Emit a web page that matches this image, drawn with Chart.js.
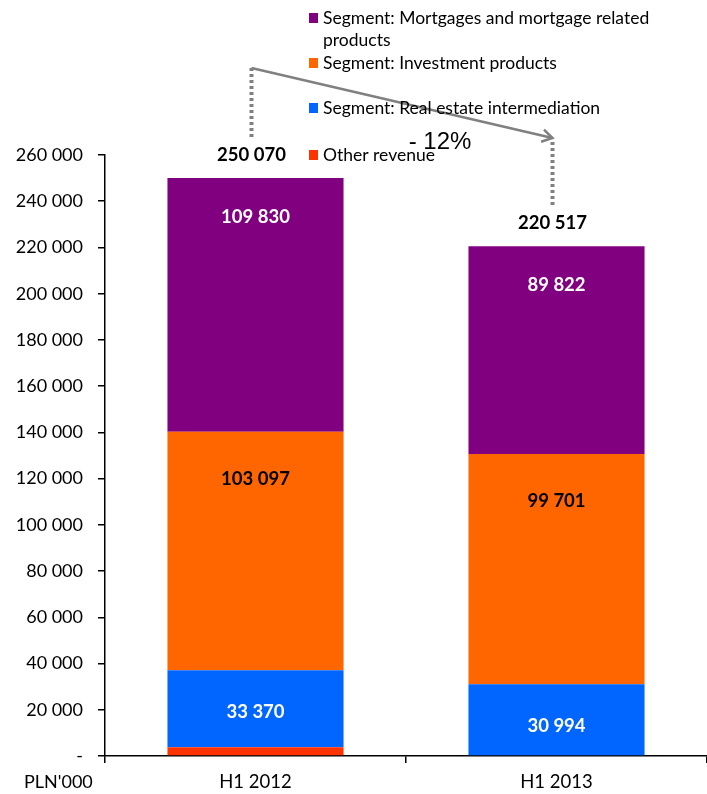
<!DOCTYPE html>
<html>
<head>
<meta charset="utf-8">
<script src="https://cdn.jsdelivr.net/npm/chart.js@4.4.0/dist/chart.umd.min.js"></script>
<style>
  html, body { margin: 0; padding: 0; background: #fff; }
  #wrap { position: relative; width: 707px; height: 794px; }
</style>
</head>
<body>
<div id="wrap"><canvas id="revChart" width="707" height="794"></canvas></div>
<script>
// Revenue by segment, PLN'000
const periods = ['H1 2012', 'H1 2013'];
const otherRevenue = [3773, 0];
const realEstate = [33370, 30994];
const investment = [103097, 99701];
const mortgages = [109830, 89822];
const changeLabel = '- 12%';
const unitLabel = "PLN'000";

const FONT = 'Lato, "Open Sans", sans-serif';

// thousands separated by a space, zero shown as a dash
const fmt = v => v === 0 ? '-' : String(Math.round(v)).replace(/\B(?=(\d{3})+(?!\d))/g, ' ');

const totals = periods.map((_, i) => otherRevenue[i] + realEstate[i] + investment[i] + mortgages[i]);

const datasets = [
  { label: 'Other revenue', data: otherRevenue, backgroundColor: '#ff3300', labelColor: null, labelDy: 0 },
  { label: 'Segment: Real estate intermediation', data: realEstate, backgroundColor: '#0066ff', labelColor: '#ffffff', labelDy: 42 },
  { label: 'Segment: Investment products', data: investment, backgroundColor: '#ff6600', labelColor: '#000000', labelDy: 47 },
  { label: 'Segment: Mortgages and mortgage related|products', data: mortgages, backgroundColor: '#800080', labelColor: '#ffffff', labelDy: 39 }
];

// legend, value labels, totals and the change arrow
const decorations = {
  id: 'decorations',
  afterDatasetsDraw(chart) {
    const ctx = chart.ctx;
    ctx.save();

    // segment values inside the bars
    chart.data.datasets.forEach((ds, di) => {
      if (!ds.labelColor) return;
      chart.getDatasetMeta(di).data.forEach((bar, i) => {
        ctx.font = 'bold 18.5px ' + FONT;
        ctx.fillStyle = ds.labelColor;
        ctx.textAlign = 'center';
        ctx.textBaseline = 'middle';
        ctx.fillText(fmt(ds.data[i]), bar.x, bar.y + ds.labelDy);
      });
    });

    // totals above the bars
    const top = chart.getDatasetMeta(chart.data.datasets.length - 1).data;
    const y = chart.scales.y;
    ctx.font = 'bold 18.5px ' + FONT;
    ctx.fillStyle = '#000';
    ctx.textAlign = 'center';
    const totalPos = [];
    top.forEach((bar, i) => {
      const ty = y.getPixelForValue(totals[i]);
      const tx = bar.x - 4;
      ctx.fillText(fmt(totals[i]), tx, ty - 23);
      totalPos.push({ x: tx, y: ty - 23 });
    });

    // dotted connectors and the arrow between totals
    const a = totalPos[0], b = totalPos[1];
    const arrowTop = 68, arrowEnd = 138;
    ctx.strokeStyle = '#808080';
    ctx.lineWidth = 4;
    ctx.setLineDash([3, 3]);
    ctx.beginPath();
    ctx.moveTo(a.x, arrowTop); ctx.lineTo(a.x, a.y - 16);
    ctx.moveTo(b.x, arrowEnd + 4); ctx.lineTo(b.x, b.y - 16);
    ctx.stroke();
    ctx.setLineDash([]);
    ctx.lineWidth = 2.5;
    ctx.beginPath();
    ctx.moveTo(a.x, arrowTop); ctx.lineTo(b.x, arrowEnd);
    ctx.stroke();
    const ang = Math.atan2(arrowEnd - arrowTop, b.x - a.x);
    ctx.beginPath();
    ctx.moveTo(b.x - 12 * Math.cos(ang - 0.55), arrowEnd - 12 * Math.sin(ang - 0.55));
    ctx.lineTo(b.x, arrowEnd);
    ctx.lineTo(b.x - 12 * Math.cos(ang + 0.55), arrowEnd - 12 * Math.sin(ang + 0.55));
    ctx.stroke();

    // legend, top entry first
    const legendY = [18, 63, 108, 155];
    ctx.textAlign = 'left';
    ctx.textBaseline = 'middle';
    ctx.font = '17.5px ' + FONT;
    chart.data.datasets.slice().reverse().forEach((ds, k) => {
      const ly = legendY[k];
      ctx.fillStyle = ds.backgroundColor;
      ctx.fillRect(309, ly - 5, 9, 10);
      ctx.fillStyle = '#000';
      ds.label.split('|').forEach((line, j) => ctx.fillText(line, 323, ly + j * 22));
    });

    // change label over the arrow
    ctx.font = '24px "Liberation Sans", Arial, sans-serif';
    ctx.fillStyle = '#000';
    ctx.textAlign = 'center';
    ctx.fillText(changeLabel, 440, 142);

    // unit under the value axis
    ctx.font = '18px ' + FONT;
    ctx.textAlign = 'left';
    ctx.fillText(unitLabel, 24, 782);
    ctx.restore();
  }
};

new Chart(document.getElementById('revChart'), {
  type: 'bar',
  data: {
    labels: periods,
    datasets: datasets.map(d => ({
      label: d.label,
      data: d.data,
      backgroundColor: d.backgroundColor,
      labelColor: d.labelColor,
      labelDy: d.labelDy,
      borderWidth: 0,
      categoryPercentage: 0.585,
      barPercentage: 1
    }))
  },
  options: {
    responsive: false,
    animation: false,
    layout: { padding: { top: 155, right: 0, left: 0, bottom: 0 } },
    plugins: { legend: { display: false }, tooltip: { enabled: false } },
    scales: {
      x: {
        stacked: true,
        afterFit: s => { s.height = 38; },
        border: { display: true, color: '#000', width: 1.5 },
        grid: { display: true, drawOnChartArea: false, offset: true, color: '#000', tickLength: 7, lineWidth: 1.5 },
        ticks: { color: '#000', font: { family: FONT, size: 18.5 }, padding: 8 }
      },
      y: {
        stacked: true,
        min: 0,
        max: 260000,
        afterFit: s => { s.width = 105; },
        border: { display: true, color: '#000', width: 1.5 },
        grid: { display: true, drawOnChartArea: false, color: '#000', tickLength: 7, lineWidth: 1.5 },
        ticks: { stepSize: 20000, color: '#000', font: { family: FONT, size: 18 }, padding: 15, callback: v => fmt(v) }
      }
    }
  },
  plugins: [decorations]
});
</script>
</body>
</html>
